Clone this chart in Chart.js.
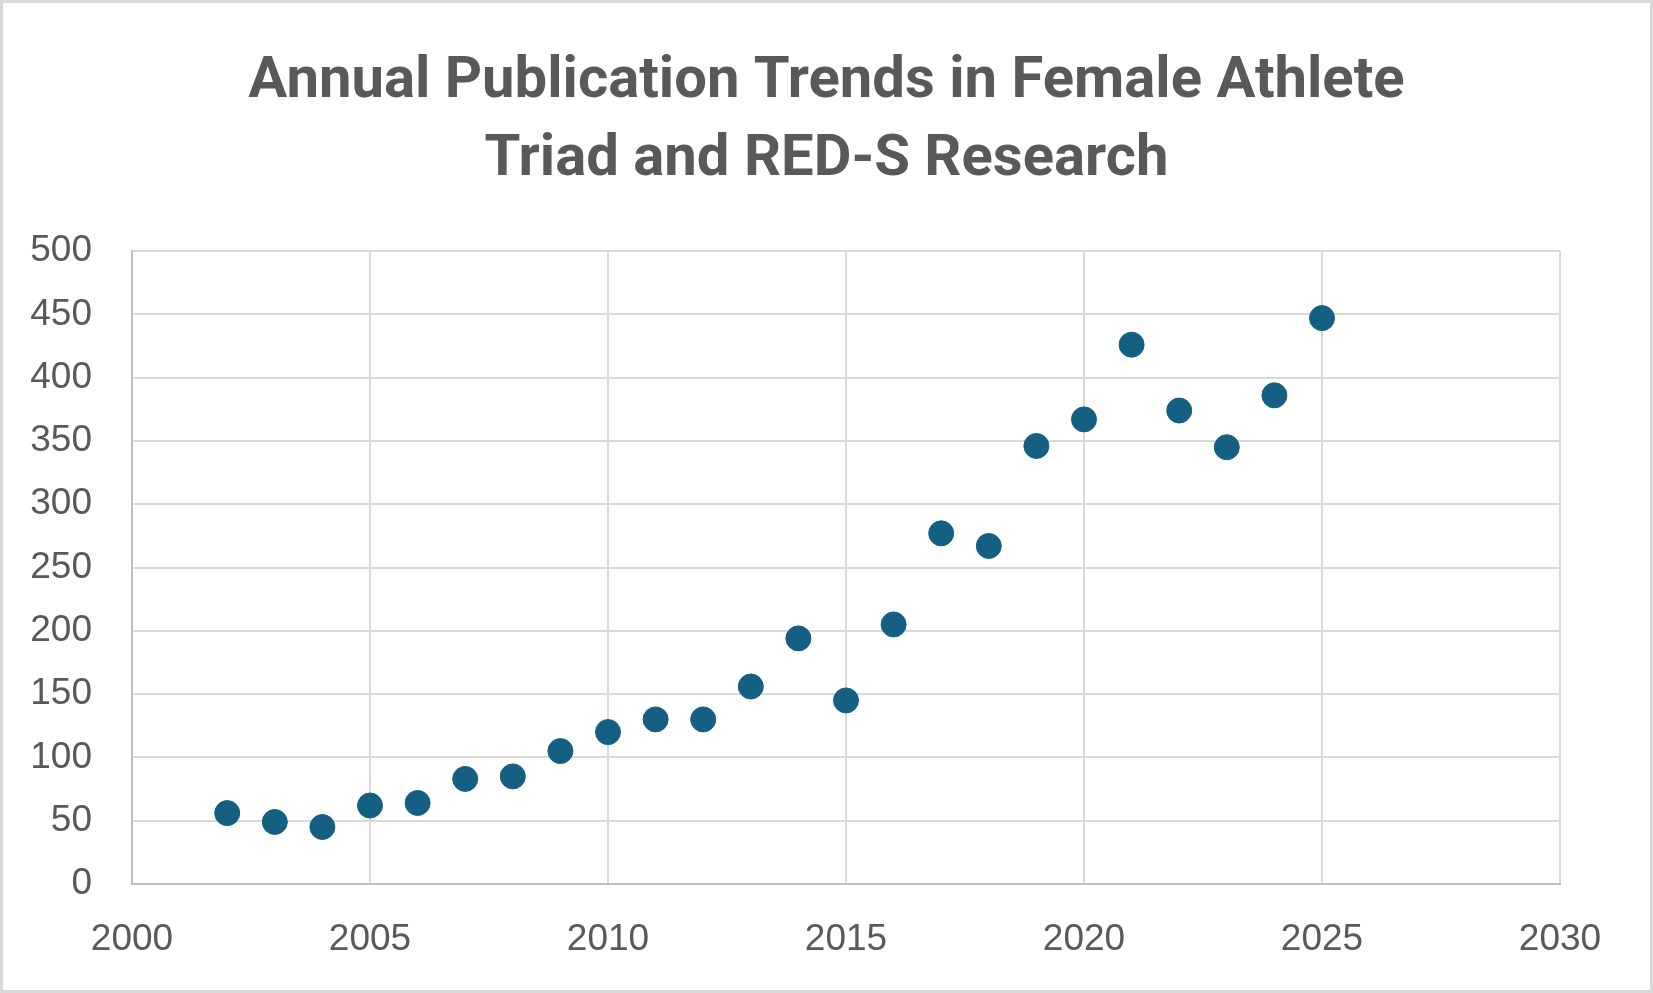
<!DOCTYPE html>
<html>
<head>
<meta charset="utf-8">
<script src="https://cdn.jsdelivr.net/npm/chart.js@4.4.1/dist/chart.umd.min.js"></script>
<style>
  html, body { margin: 0; padding: 0; background: #fff; }
  #wrap { width: 1653px; height: 993px; }
</style>
</head>
<body>
<div id="wrap"><canvas id="pubChart" width="1653" height="993"></canvas></div>
<script>
// publication counts per year
const years = [2002, 2003, 2004, 2005, 2006, 2007, 2008, 2009, 2010, 2011, 2012, 2013,
               2014, 2015, 2016, 2017, 2018, 2019, 2020, 2021, 2022, 2023, 2024, 2025];
const counts = [56, 49, 45, 62, 64, 83, 85, 105, 120, 130, 130, 156,
                194, 145, 205, 277, 267, 346, 367, 426, 374, 345, 386, 447];
const titleLines = ['Annual Publication Trends in Female Athlete', 'Triad and RED-S Research'];

const points = years.map((y, i) => ({ x: y, y: counts[i] }));

// white page with the thin grey frame round it
const frame = {
  id: 'frame',
  beforeDraw(chart) {
    const ctx = chart.ctx;
    ctx.save();
    ctx.fillStyle = '#fff';
    ctx.fillRect(0, 0, chart.width, chart.height);
    ctx.strokeStyle = '#d9d9d9';
    ctx.lineWidth = 3;
    ctx.strokeRect(1.5, 1.5, chart.width - 3, chart.height - 3);
    ctx.restore();
  }
};

new Chart(document.getElementById('pubChart'), {
  type: 'scatter',
  data: {
    datasets: [{
      label: 'Publications',
      data: points,
      backgroundColor: '#156082',
      borderColor: '#156082',
      pointRadius: 12.5,
      pointHoverRadius: 12.5
    }]
  },
  options: {
    responsive: false,
    animation: false,
    layout: { padding: 0 },
    plugins: {
      legend: { display: false },
      tooltip: { enabled: false },
      title: {
        display: true,
        text: titleLines,
        color: '#595959',
        font: { family: 'Roboto', size: 58, weight: 'bold', lineHeight: 1.345 },
        padding: { top: 43, bottom: 52 }
      }
    },
    scales: {
      x: {
        type: 'linear',
        min: 2000,
        max: 2030,
        grid: { color: '#d9d9d9', lineWidth: 2, drawTicks: false },
        border: { color: '#bfbfbf', width: 2 },
        ticks: {
          stepSize: 5,
          color: '#595959',
          padding: 34,
          font: { family: 'Liberation Sans', size: 37 },
          callback: v => String(v)
        },
        afterFit(s) { s.height = 109; }
      },
      y: {
        min: 0,
        max: 500,
        grid: { color: '#d9d9d9', lineWidth: 2, drawTicks: false },
        border: { color: '#bfbfbf', width: 2 },
        ticks: {
          stepSize: 50,
          color: '#595959',
          padding: 40,
          font: { family: 'Liberation Sans', size: 37 }
        },
        afterFit(s) { s.width = 132; }
      },
      // empty right-hand axis, only keeps the right margin
      yRight: {
        position: 'right',
        min: 0,
        max: 500,
        grid: { display: false, drawTicks: false },
        border: { display: false },
        ticks: { display: false },
        afterFit(s) { s.width = 93; }
      }
    }
  },
  plugins: [frame]
});
</script>
</body>
</html>
